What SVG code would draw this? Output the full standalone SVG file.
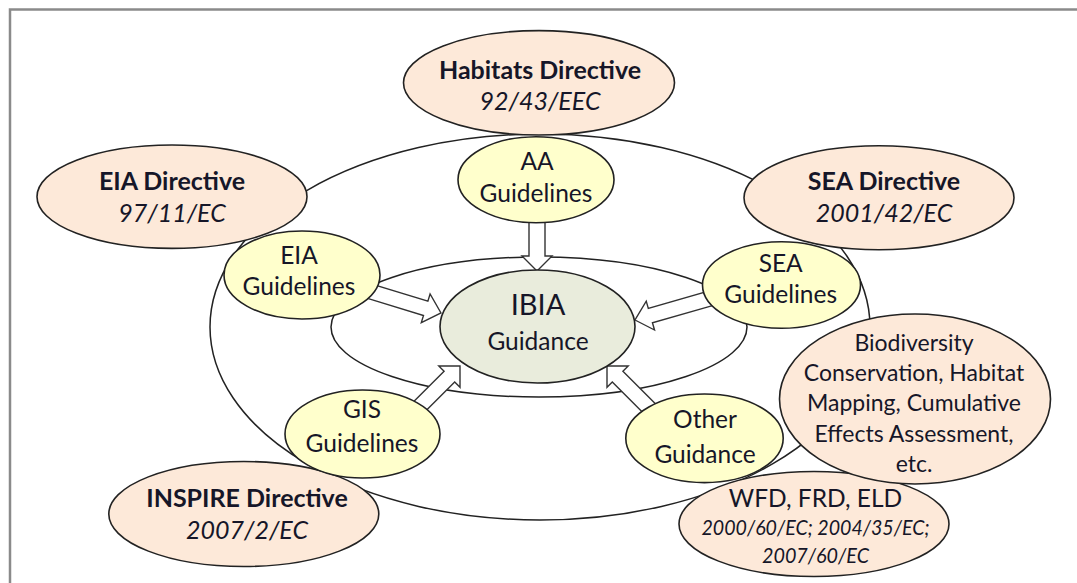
<svg xmlns="http://www.w3.org/2000/svg" width="1077" height="583" viewBox="0 0 1077 583">
<style>
.law{fill:#fde9d9;stroke:#222;stroke-width:1.6}
.gl{fill:#ffffcc;stroke:#222;stroke-width:1.6}
.core{fill:#e9ecdc;stroke:#222;stroke-width:1.6}
.orbit{fill:none;stroke:#222;stroke-width:1.5}
.arr{fill:#fff;stroke:#333;stroke-width:1.4;stroke-linejoin:miter}
text{font-family:Lato,"Liberation Sans",sans-serif;fill:#161628;text-anchor:middle}
.b{font-weight:bold;font-size:25px}
.i{font-style:italic;font-size:25px}
.r{font-size:24.5px}
.big{font-size:29px}
.s{font-size:23px}
.si{font-style:italic;font-size:20.5px}
</style>
<rect x="10" y="9.5" width="1090" height="600" fill="none" stroke="#8a8a8a" stroke-width="2.5"/>
<g id="orbits">
<ellipse class="orbit" cx="540" cy="327" rx="330" ry="193"/>
<ellipse class="orbit" cx="539" cy="327" rx="208" ry="70"/>
</g>
<g id="connectors">
<polygon class="arr" transform="translate(537,271) rotate(90)" points="0,0 -15,-15 -15,-8 -56,-8 -56,8 -15,8 -15,15"/>
<polygon class="arr" transform="translate(441,313) rotate(17)" points="0,0 -16,-15 -16,-7.5 -78,-7.5 -78,7.5 -16,7.5 -16,15"/>
<polygon class="arr" transform="translate(635,320) rotate(164)" points="0,0 -16,-15 -16,-7.5 -84,-7.5 -84,7.5 -16,7.5 -16,15"/>
<polygon class="arr" transform="translate(460,366) rotate(-45)" points="0,0 -15,-15 -15,-7.5 -66,-7.5 -66,7.5 -15,7.5 -15,15"/>
<polygon class="arr" transform="translate(607,366) rotate(-135)" points="0,0 -15,-15 -15,-7.5 -68,-7.5 -68,7.5 -15,7.5 -15,15"/>
</g>
<g id="habitats">
<ellipse class="law" cx="539" cy="82.8" rx="135.5" ry="52.2"/>
<text class="b" x="540" y="79">Habitats Directive</text>
<text class="i" x="540" y="110">92/43/EEC</text>
</g>
<g id="aa">
<ellipse class="gl" cx="536" cy="179.7" rx="78" ry="43"/>
<text class="r" x="537" y="170">AA</text>
<text class="r" x="536" y="201.7">Guidelines</text>
</g>
<g id="eia-directive">
<ellipse class="law" cx="172" cy="196.7" rx="135" ry="51.7"/>
<text class="b" x="172" y="190">EIA Directive</text>
<text class="i" x="172" y="221.7">97/11/EC</text>
</g>
<g id="eia-guidelines">
<ellipse class="gl" cx="302" cy="275" rx="78" ry="44"/>
<text class="r" x="299" y="264.3">EIA</text>
<text class="r" x="299" y="295">Guidelines</text>
</g>
<g id="sea-directive">
<ellipse class="law" cx="879" cy="197.8" rx="135" ry="52"/>
<text class="b" x="884" y="190">SEA Directive</text>
<text class="i" x="884" y="221.7">2001/42/EC</text>
</g>
<g id="sea-guidelines">
<ellipse class="gl" cx="781.5" cy="285" rx="79" ry="43.3"/>
<text class="r" x="780.7" y="272">SEA</text>
<text class="r" x="780.7" y="303">Guidelines</text>
</g>
<g id="inspire">
<ellipse class="law" cx="243.8" cy="514" rx="135" ry="52.5"/>
<text class="b" x="247" y="507.3">INSPIRE Directive</text>
<text class="i" x="247" y="539.3">2007/2/EC</text>
</g>
<g id="gis">
<ellipse class="gl" cx="362.5" cy="434" rx="77.5" ry="44"/>
<text class="r" x="362" y="418.3">GIS</text>
<text class="r" x="362" y="451.7">Guidelines</text>
</g>
<g id="other">
<ellipse class="gl" cx="704.5" cy="438.3" rx="78.7" ry="44.3"/>
<text class="r" x="705" y="428.3">Other</text>
<text class="r" x="705" y="463.3">Guidance</text>
</g>
<g id="wfd">
<ellipse class="law" cx="814" cy="524" rx="135" ry="52.5"/>
<text class="r" x="815.5" y="506.7">WFD, FRD, ELD</text>
<text class="si" x="815.5" y="535" textLength="228" lengthAdjust="spacingAndGlyphs">2000/60/EC; 2004/35/EC;</text>
<text class="si" x="815.5" y="562.7" textLength="107" lengthAdjust="spacingAndGlyphs">2007/60/EC</text>
</g>
<g id="biodiversity">
<ellipse class="law" cx="915" cy="399" rx="135.5" ry="85"/>
<text class="s" x="914" y="351">Biodiversity</text>
<text class="s" x="914" y="380.7">Conservation, Habitat</text>
<text class="s" x="914" y="410.7">Mapping, Cumulative</text>
<text class="s" x="914" y="441.7">Effects Assessment,</text>
<text class="s" x="914" y="471.7">etc.</text>
</g>
<g id="ibia">
<ellipse class="core" cx="537.5" cy="326.5" rx="97.5" ry="56.5"/>
<text class="big" x="538" y="315">IBIA</text>
<text class="r" x="538" y="350">Guidance</text>
</g>
</svg>
